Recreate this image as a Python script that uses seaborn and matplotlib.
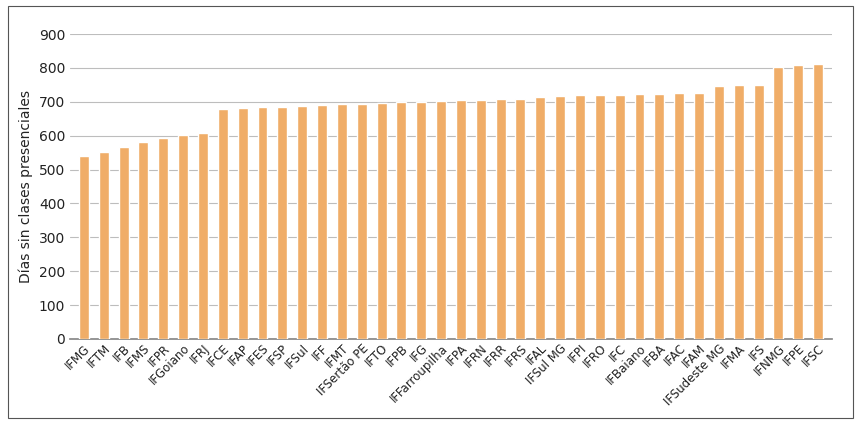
import matplotlib
matplotlib.use("Agg")
import matplotlib.pyplot as plt
import seaborn as sns
import pandas as pd

institutos = ["IFMG", "IFTM", "IFB", "IFMS", "IFPR", "IFGoiano", "IFRJ", "IFCE", "IFAP", "IFES",
              "IFSP", "IFSul", "IFF", "IFMT", "IFSertão PE", "IFTO", "IFPB", "IFG", "IFFarroupilha",
              "IFPA", "IFRN", "IFRR", "IFRS", "IFAL", "IFSul MG", "IFPI", "IFRO", "IFC", "IFBaiano",
              "IFBA", "IFAC", "IFAM", "IFSudeste MG", "IFMA", "IFS", "IFNMG", "IFPE", "IFSC"]
dias = [540, 551, 568, 580, 592, 601, 607, 679, 681, 684,
        686, 688, 690, 692, 694, 696, 699, 700, 701,
        704, 706, 708, 709, 715, 716, 719, 720, 721, 723,
        724, 726, 727, 747, 749, 750, 804, 808, 812]

df = pd.DataFrame({"inst": institutos, "dias": dias})

sns.set_theme(style="white")
plt.rcParams["font.family"] = ["Liberation Sans Narrow", "DejaVu Sans"]

fig = plt.figure(figsize=(8.61, 4.24), dpi=100)
ax = fig.add_axes([70 / 861, 1 - 339 / 424, 762 / 861, 305 / 424])

sns.barplot(data=df, x="inst", y="dias", color="#f0ad68", saturation=1, width=0.5, ax=ax, zorder=3)

ax.set_ylim(0, 900)
ax.set_yticks(range(0, 901, 100))
ax.yaxis.grid(True, color="#bdbdbd", linewidth=0.8, zorder=0)
ax.set_xlim(-0.7, len(institutos) - 0.3)
for s in ["top", "right", "left"]:
    ax.spines[s].set_visible(False)
ax.spines["bottom"].set_color("#888888")
ax.set_xlabel("")
ax.set_ylabel("Días sin clases presenciales", fontsize=10, color="#222222")
ax.tick_params(axis="y", labelsize=10, colors="#222222", length=0)
ax.tick_params(axis="x", labelsize=8.5, colors="#222222", length=0, pad=2)
plt.setp(ax.get_xticklabels(), rotation=45, ha="right", rotation_mode="anchor")

fig.patches.append(plt.Rectangle((8 / 861, 6 / 424), 845 / 861, 412 / 424, transform=fig.transFigure,
                                 fill=False, edgecolor="#555555", linewidth=0.8))

fig.savefig("out.png", dpi=100)
